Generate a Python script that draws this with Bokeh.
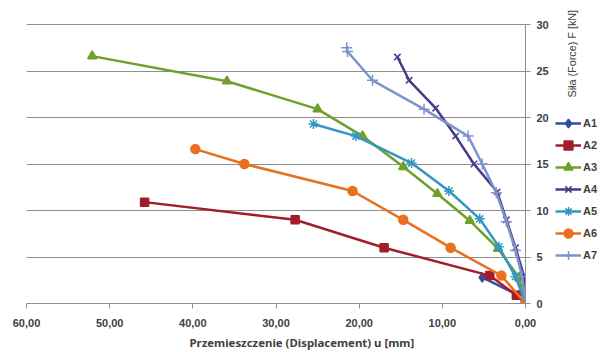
import math
from bokeh.plotting import figure
from bokeh.layouts import row
from bokeh.models import (Range1d, FixedTicker, Legend, LegendItem, Label, Title)
from bokeh.embed import file_html
from bokeh.resources import INLINE

# ---- data (displacement u [mm], force F [kN]) ----
a1_u = [0.0, 0.9, 5.2]
a1_f = [0.0, 0.9, 2.8]

a2_u = [0.0, 1.1, 4.3, 17.0, 27.7, 45.8]
a2_f = [0.0, 0.9, 3.0, 6.0, 9.0, 10.9]

a3_u = [0.0, 0.8, 3.3, 6.7, 10.6, 14.7, 19.6, 25.0, 35.9, 52.1]
a3_f = [0.0, 2.8, 5.9, 8.9, 11.8, 14.7, 18.0, 20.9, 23.9, 26.6]

a4_u = [0.0, 0.2, 1.2, 2.3, 3.4, 6.2, 8.4, 10.8, 14.0, 15.4]
a4_f = [0.0, 3.0, 6.0, 9.0, 12.0, 15.0, 18.0, 21.0, 24.0, 26.5]

a5_u = [0.0, 1.2, 3.2, 5.5, 9.2, 13.7, 20.4, 25.5]
a5_f = [0.0, 2.9, 6.1, 9.1, 12.1, 15.1, 18.0, 19.3]

a6_u = [0.0, 2.9, 9.0, 14.7, 20.8, 33.8, 39.7]
a6_f = [0.0, 3.0, 6.0, 9.0, 12.1, 15.0, 16.6]

a7_u = [0.0, 0.4, 1.2, 2.3, 3.5, 5.2, 6.9, 12.2, 18.4, 21.4, 21.5]
a7_f = [0.0, 2.9, 5.7, 8.8, 11.9, 15.0, 18.0, 20.9, 24.0, 27.1, 27.5]

series_names = ["A1", "A2", "A3", "A4", "A5", "A6", "A7"]
x_ticks = [0, 10, 20, 30, 40, 50, 60]
x_tick_labels = ["0,00", "10,00", "20,00", "30,00", "40,00", "50,00", "60,00"]
y_ticks = [0, 5, 10, 15, 20, 25, 30]
x_title = "Przemieszczenie (Displacement) u [mm]"
y_title = "Siła (Force) F [kN]"

styles = [
    ("#2F4FA0", "diamond", 9),
    ("#A11D2B", "square", 8),
    ("#6FA02A", "triangle", 9),
    ("#4A3A86", "x", 9),
    ("#3497C2", "asterisk", 10),
    ("#E8701E", "circle", 9),
    ("#7D93CB", "cross", 11),
]
data = [(a1_u, a1_f), (a2_u, a2_f), (a3_u, a3_f), (a4_u, a4_f),
        (a5_u, a5_f), (a6_u, a6_f), (a7_u, a7_f)]

GRAY = "#8f8f8f"
TXT = "#404040"
FONT = "Liberation Sans"

# frame: top at 4px, bottom at 303px; value 30 sits 20px below frame top
PX_PER_UNIT = 279 / 30.0
y_top = 30 + 20 / PX_PER_UNIT

p = figure(width=551, height=352, x_range=Range1d(60, 0), y_range=Range1d(0, y_top),
           y_axis_location="right", output_backend="svg", toolbar_location=None,
           min_border_left=26, min_border_right=26, min_border_top=4,
           min_border_bottom=49)
p.outline_line_color = None
p.xgrid.grid_line_color = None
p.ygrid.grid_line_color = GRAY
p.ygrid.grid_line_width = 1.2
p.ygrid.ticker = FixedTicker(ticks=y_ticks)

xa = p.xaxis[0]
xa.ticker = FixedTicker(ticks=x_ticks)
xa.major_label_overrides = {t: s for t, s in zip(x_ticks, x_tick_labels)}
ya = p.yaxis[0]
ya.ticker = FixedTicker(ticks=y_ticks)
ya.bounds = (0, 30)
for ax in (xa, ya):
    ax.axis_line_color = GRAY
    ax.major_tick_line_color = GRAY
    ax.major_tick_in = 0
    ax.major_tick_out = 5
    ax.minor_tick_line_color = None
    ax.major_label_text_font = FONT
    ax.major_label_text_font_style = "bold"
    ax.major_label_text_font_size = "11px"
    ax.major_label_text_color = TXT
xa.major_label_standoff = 10
ya.major_label_standoff = 6

for (u, f), (col, mk, sz) in zip(data, styles):
    p.line(u, f, line_color=col, line_width=2.5)
    p.scatter(u, f, marker=mk, size=sz, fill_color=col, line_color=col, line_width=1.5)

p.add_layout(Title(text=x_title, align="left", offset=163, standoff=6,
                   text_font="Noto Sans", text_font_size="11.4px",
                   text_font_style="bold", text_color=TXT), "below")

# side figure holding the legend and the vertical axis title
q = figure(width=50, height=352, x_range=Range1d(1000, 1001), y_range=Range1d(1000, 1001),
           x_axis_location=None, y_axis_location=None, output_backend="svg",
           toolbar_location=None, min_border=0)
q.outline_line_color = None
q.grid.visible = False

items = []
for name, (u, f), (col, mk, sz) in zip(series_names, data, styles):
    ln = q.line(u, f, line_color=col, line_width=2.5)
    sc = q.scatter(u, f, marker=mk, size=sz, fill_color=col, line_color=col,
                   line_width=1.5)
    items.append(LegendItem(label=name, renderers=[ln, sc]))

legend = Legend(items=items, location=(4, 37), padding=0, margin=0,
                spacing=0, glyph_width=26, glyph_height=22, label_height=22,
                label_standoff=2, border_line_color=None,
                background_fill_alpha=0,
                label_text_font=FONT, label_text_font_size="11px",
                label_text_font_style="bold", label_text_color=TXT)
q.add_layout(legend)

q.add_layout(Label(x=20.5, y=206, x_units="screen", y_units="screen",
                   text=y_title, angle=math.pi / 2,
                   text_align="left", text_baseline="middle",
                   text_font=FONT, text_font_size="10.8px", text_color=TXT))

layout = row(p, q, spacing=0)
open("out.html", "w").write(file_html(layout, INLINE))
